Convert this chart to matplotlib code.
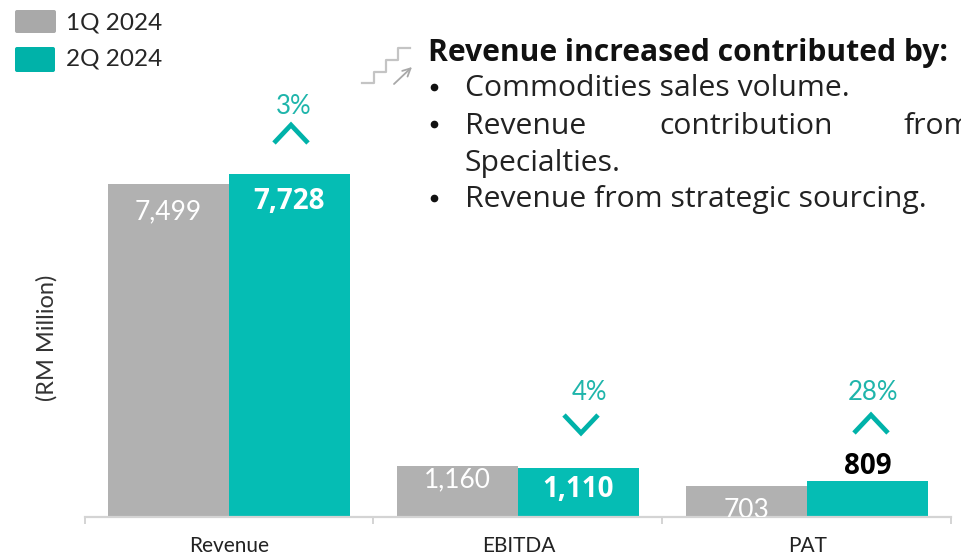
import matplotlib
matplotlib.use('Agg')
import matplotlib.pyplot as plt
from matplotlib.patches import FancyBboxPatch
import numpy as np

categories = ['Revenue', 'EBITDA', 'PAT']
q1_values = [7499, 1160, 703]
q2_values = [7728, 1110, 809]
series_names = ['1Q 2024', '2Q 2024']
pct_labels = ['3%', '4%', '28%']
pct_up = [True, False, True]
headline = 'Revenue increased contributed by:'

GREY = '#b1b1b1'
TEAL = '#05bdb4'
TEAL_DARK = '#1fb5ab'
BASE = 517
W = 962
H = 557

plt.rcParams['font.family'] = ['Lato', 'DejaVu Sans']

fig = plt.figure(figsize=(W / 100, H / 100), dpi=100)

# main axes: baseline and ticks line up with the picture
ax = fig.add_axes([84.5 / W, (H - BASE) / H, (951.5 - 84.5) / W, 343 / H * 1.05])
x = np.arange(len(categories))
bw = 0.418
ax.bar(x - bw / 2, q1_values, bw, color=GREY)
ax.bar(x + bw / 2, q2_values, bw, color=TEAL)
ax.set_xlim(-0.5, 2.5)
ax.set_ylim(0, 7728 * 1.05)
ax.set_yticks([])
for s in ['top', 'left', 'right']:
    ax.spines[s].set_visible(False)
ax.spines['bottom'].set_color('#d4d4d4')
ax.spines['bottom'].set_linewidth(1.6)
ax.set_xticks([-0.5, 0.5, 1.5, 2.5])
ax.set_xticklabels([])
ax.tick_params(axis='x', length=5, width=1.4, color='#d4d4d4', direction='out')
ax.patch.set_alpha(0)

# value labels, offsets in points from the top of each bar
q1_offset = [-20, -10, -18]
q2_offset = [-20, -16, 0]
for i in range(3):
    ax.annotate(f'{q1_values[i]:,}', (x[i] - bw / 2, q1_values[i]), xytext=(0, q1_offset[i]),
                textcoords='offset points', ha='center', va='center',
                color='white', fontsize=19, annotation_clip=False, clip_on=True)
    ax.annotate(f'{q2_values[i]:,}', (x[i] + bw / 2, q2_values[i]), xytext=(0, q2_offset[i]),
                textcoords='offset points', ha='center', va='center' if i != 2 else 'bottom',
                color='white' if i != 2 else 'black', fontsize=20, fontweight='bold',
                family=['Open Sans', 'DejaVu Sans'])

# overlay in pixel coordinates for the slide furniture
ov = fig.add_axes([0, 0, 1, 1])
ov.set_xlim(0, W)
ov.set_ylim(H, 0)
ov.axis('off')

for i, c in enumerate(categories):
    ov.text(229.5 + 289 * i, 546, c, ha='center', va='center', fontsize=15, color='#222222')

ov.text(47, 338, '(RM Million)', rotation=90, ha='center', va='center', fontsize=17, color='#333333')

# legend
legend_boxes = [(15, 10, 41, 23, '#a9a9a9', 23), (15, 47, 40, 25, '#00b2a9', 59)]
for (lx, ly, lw, lh, col, ty), name in zip(legend_boxes, series_names):
    ov.add_patch(FancyBboxPatch((lx + 2, ly + 2), lw - 4, lh - 4, boxstyle='round,pad=2', fc=col, ec='none'))
    ov.text(66, ty, name, va='center', ha='left', fontsize=17.5, color='#262626')

# change arrows
chev_x = [291, 581, 871]
chev_y = [134, 424, 424]
txt_x = [294, 589, 873]
txt_y = [106, 393, 393]
for cx, cy, tx, ty, lab, up in zip(chev_x, chev_y, txt_x, txt_y, pct_labels, pct_up):
    ov.text(tx, ty, lab, ha='center', va='center', fontsize=18.5, color=TEAL_DARK)
    d = 9 if up else -9
    ov.plot([cx - 17, cx, cx + 17], [cy + d, cy - d, cy + d], color='#00b2a9', lw=3.4,
            solid_joinstyle='miter', solid_capstyle='butt')

# stairs icon
ov.plot([362, 374, 374, 386, 386, 398, 398, 410], [83, 83, 72, 72, 60, 60, 48, 48], color='#c4c4c4', lw=1.6)
ov.annotate('', xy=(412, 67), xytext=(394, 84),
            arrowprops=dict(arrowstyle='->', color='#a8a8a8', lw=1.3, mutation_scale=14,
                            shrinkA=0, shrinkB=0))

# text block
body = ['Open Sans', 'DejaVu Sans']
ov.text(428, 53, headline, fontsize=21.6, fontweight='bold', va='center', family=body, color='#111111')
ov.text(465, 89, 'Commodities sales volume.', fontsize=21.7, va='center', family=body, color='#222222')
ov.text(465, 126, 'Revenue', fontsize=21.7, va='center', family=body, color='#222222')
ov.text(659, 126, 'contribution', fontsize=21.7, va='center', family=body, color='#222222')
ov.text(904, 126, 'from', fontsize=21.7, va='center', family=body, color='#222222', clip_on=True)
ov.text(465, 163, 'Specialties.', fontsize=21.7, va='center', family=body, color='#222222')
ov.text(465, 200, 'Revenue from strategic sourcing.', fontsize=21.7, va='center', family=body, color='#222222')
for by in [87, 124, 198]:
    ov.plot([434], [by], 'o', ms=4.5, color='#111111')

fig.savefig('out.png', dpi=100)
